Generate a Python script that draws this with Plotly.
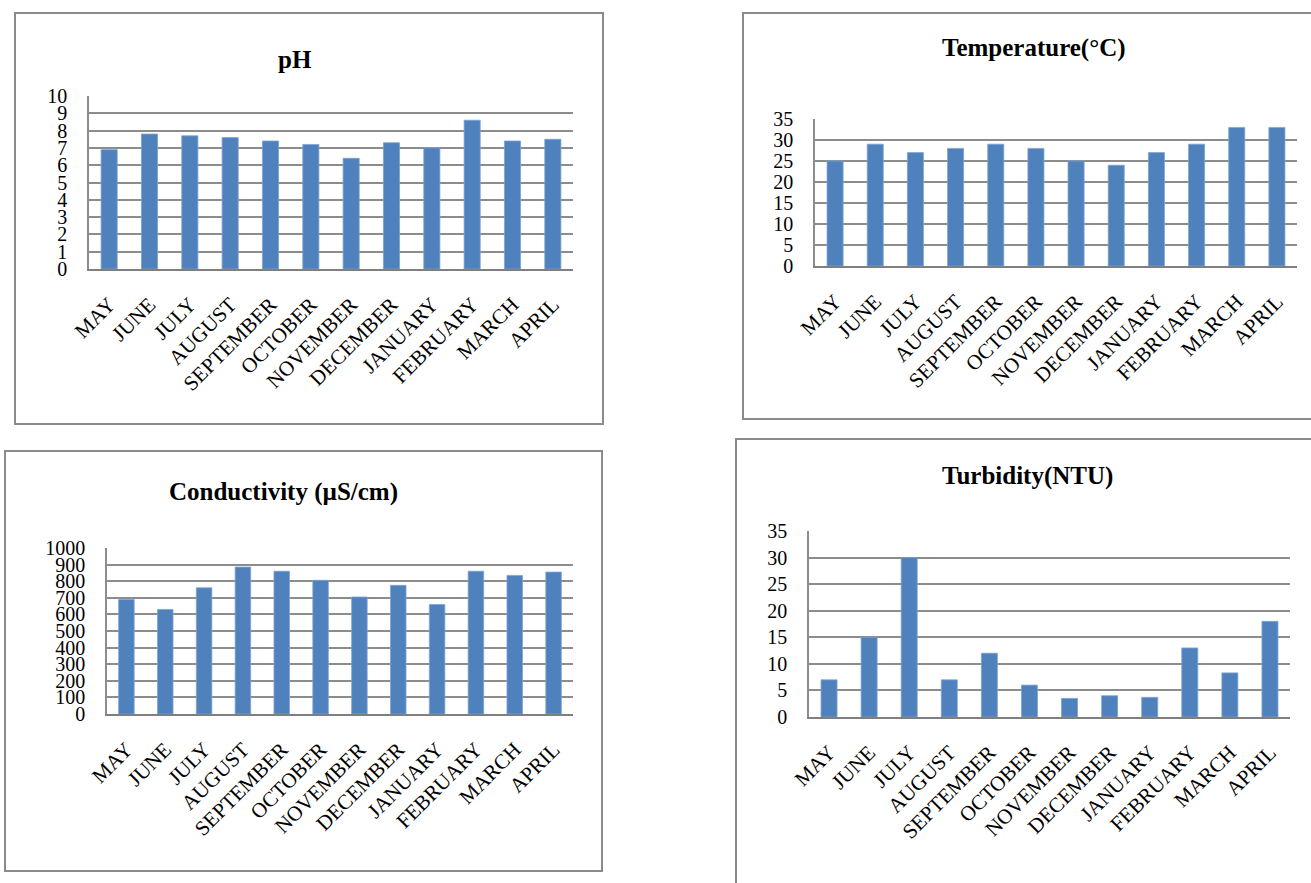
import plotly.graph_objects as go

# Monthly water-quality readings
months = ["MAY", "JUNE", "JULY", "AUGUST", "SEPTEMBER", "OCTOBER", "NOVEMBER",
          "DECEMBER", "JANUARY", "FEBRUARY", "MARCH", "APRIL"]
ph_values = [6.9, 7.8, 7.7, 7.6, 7.4, 7.2, 6.4, 7.3, 7.0, 8.6, 7.4, 7.5]
temperature_values = [25, 29, 27, 28, 29, 28, 25, 24, 27, 29, 33, 33]
conductivity_values = [690, 630, 760, 885, 860, 805, 705, 775, 660, 860, 835, 855]
turbidity_values = [7, 15, 30, 7, 12, 6, 3.5, 4, 3.7, 13, 8.3, 18]

W, H = 1311, 883
BAR = "#4F81BD"
GRID = "#8C8C8C"
FONT = "Liberation Serif, Times New Roman, serif"


def px_x(v):
    return v / W


def px_y(v):
    return 1 - v / H


# (title, values, y-max, y-step, plot box in pixels, frame in pixels, title centre in pixels)
panels = [
    ("pH", ph_values, 10, 1, (89, 573, 96, 269), (15, 603, 13, 424), (295, 60)),
    ("Temperature(°C)", temperature_values, 35, 5, (815, 1297, 119, 266), (743, 1320, 13, 419), (1034, 48)),
    ("Conductivity (µS/cm)", conductivity_values, 1000, 100, (107, 573, 548, 714), (5, 602, 451, 871), (283, 492)),
    ("Turbidity(NTU)", turbidity_values, 35, 5, (809, 1290, 531, 717), (736, 1320, 439, 900), (1027, 476)),
]

fig = go.Figure()
shapes = []
annotations = []

for i, (title, vals, ymax, step, box, frame, tpos) in enumerate(panels, start=1):
    xa = "x" if i == 1 else f"x{i}"
    ya = "y" if i == 1 else f"y{i}"
    fig.add_trace(go.Bar(
        x=months, y=vals, xaxis=xa, yaxis=ya,
        marker=dict(color=BAR, line=dict(color="#7FA3D0", width=0.8)),
        showlegend=False, hoverinfo="x+y",
    ))
    x0, x1, y0, y1 = box
    xkey = "xaxis" if i == 1 else f"xaxis{i}"
    ykey = "yaxis" if i == 1 else f"yaxis{i}"
    fig.update_layout(**{
        xkey: dict(
            domain=[px_x(x0), px_x(x1)], anchor=ya, automargin=False,
            tickangle=-45, tickfont=dict(family=FONT, size=21, color="black"),
            showline=True, linecolor="#7F7F7F", linewidth=2,
            showgrid=False, ticks="outside", ticklen=13,
            tickcolor="rgba(0,0,0,0)", fixedrange=True,
            type="category",
        ),
        ykey: dict(
            domain=[px_y(y1), px_y(y0)], anchor=xa, automargin=False,
            range=[0, ymax], dtick=step, tick0=0,
            tickfont=dict(family=FONT, size=20, color="black"),
            showgrid=True, gridcolor=GRID, gridwidth=1.6,
            showline=True, linecolor="#8C8C8C", linewidth=1.6,
            ticks="outside", ticklen=16, tickcolor="rgba(0,0,0,0)",
            zeroline=False, fixedrange=True,
        ),
    })
    fx0, fx1, fy0, fy1 = frame
    shapes.append(dict(
        type="rect", xref="paper", yref="paper",
        x0=px_x(fx0), x1=px_x(fx1), y0=px_y(fy1), y1=px_y(fy0),
        line=dict(color="#8A8A8A", width=2), fillcolor="rgba(0,0,0,0)",
        layer="below",
    ))
    annotations.append(dict(
        text=f"<b>{title}</b>", xref="paper", yref="paper",
        x=px_x(tpos[0]), y=px_y(tpos[1]),
        xanchor="center", yanchor="middle", showarrow=False,
        font=dict(family=FONT, size=25, color="black"),
    ))

fig.update_layout(
    width=W, height=H,
    margin=dict(l=0, r=0, t=0, b=0, autoexpand=False),
    paper_bgcolor="white", plot_bgcolor="white",
    bargap=0.6,
    shapes=shapes, annotations=annotations,
)

# Remove the browser's default page margin so the figure sits at the top-left corner
fig.write_html("out.html", post_script="document.body.style.margin='0px';document.body.style.overflow='hidden';")
